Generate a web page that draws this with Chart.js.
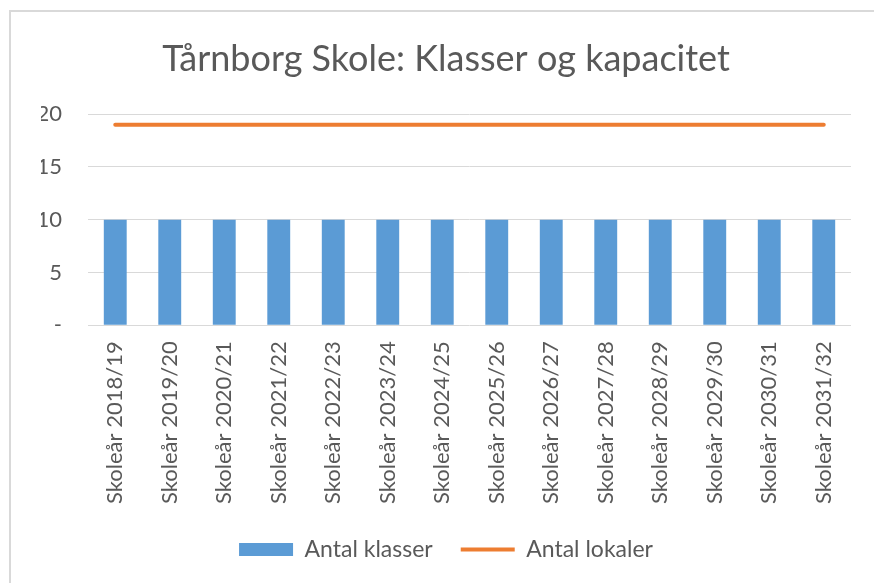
<!DOCTYPE html>
<html>
<head>
<meta charset="utf-8">
<script src="https://cdn.jsdelivr.net/npm/chart.js@4"></script>
<style>
  html, body { margin: 0; padding: 0; background: #fff; }
  #wrap { position: relative; width: 874px; height: 583px; }
  #frame { position: absolute; left: 9px; top: 10px; right: 0; bottom: 0; border-top: 2px solid #d9d9d9; border-left: 2px solid #d9d9d9; }
  canvas { position: absolute; left: 0; top: 0; }
</style>
</head>
<body>
<div id="wrap">
  <div id="frame"></div>
  <canvas id="c" width="874" height="583"></canvas>
</div>
<script>
const categories = ["Skoleår 2018/19","Skoleår 2019/20","Skoleår 2020/21","Skoleår 2021/22","Skoleår 2022/23","Skoleår 2023/24","Skoleår 2024/25","Skoleår 2025/26","Skoleår 2026/27","Skoleår 2027/28","Skoleår 2028/29","Skoleår 2029/30","Skoleår 2030/31","Skoleår 2031/32"];
const antalKlasser = [10,10,10,10,10,10,10,10,10,10,10,10,10,10];
const antalLokaler = [19,19,19,19,19,19,19,19,19,19,19,19,19,19];
const yTicks = [0,5,10,15,20];
const titleText = "Tårnborg Skole: Klasser og kapacitet";

const FONT = "Lato, 'Open Sans', sans-serif";
const TXT = "#595959";

// nudge the legend a little upwards after layout
const legendShift = {
  id: "legendShift",
  afterLayout(chart) {
    const lg = chart.legend;
    if (lg) { lg.top -= 10; lg.bottom -= 10; }
  }
};

new Chart(document.getElementById("c"), {
  type: "bar",
  plugins: [legendShift],
  data: {
    labels: categories,
    datasets: [
      {
        type: "line",
        label: "Antal lokaler",
        data: antalLokaler,
        borderColor: "#ED7D31",
        backgroundColor: "#ED7D31",
        borderWidth: 4,
        borderCapStyle: "round",
        pointRadius: 0,
        pointHoverRadius: 0,
        pointStyle: "line",
        order: 0
      },
      {
        type: "bar",
        label: "Antal klasser",
        data: antalKlasser,
        backgroundColor: "#5B9BD5",
        borderWidth: 0,
        barPercentage: 0.42,
        categoryPercentage: 1.0,
        pointStyle: "rect",
        order: 1
      }
    ]
  },
  options: {
    responsive: false,
    animation: false,
    devicePixelRatio: 1,
    layout: { padding: { left: 41, right: 23, top: 0, bottom: 2 } },
    plugins: {
      title: {
        display: true,
        text: titleText,
        color: TXT,
        font: { family: FONT, size: 36, weight: "normal" },
        padding: { top: 38, bottom: 33 }
      },
      legend: {
        position: "bottom",
        reverse: true,
        labels: {
          color: TXT,
          font: { family: FONT, size: 23 },
          usePointStyle: true,
          pointStyleWidth: 54,
          boxHeight: 13,
          padding: 28
        }
      },
      tooltip: { enabled: false }
    },
    scales: {
      x: {
        grid: { display: false, drawTicks: false },
        border: { display: false },
        ticks: {
          color: TXT,
          font: { family: FONT, size: 22 },
          minRotation: 90,
          maxRotation: 90,
          padding: 16,
          autoSkip: false
        }
      },
      y: {
        min: 0,
        max: 20,
        afterFit: (s) => { s.width = 47; },
        afterBuildTicks: (s) => { s.ticks = yTicks.map(v => ({ value: v })); },
        grid: { color: "#d9d9d9", lineWidth: 1, drawTicks: false },
        border: { display: false },
        ticks: {
          color: TXT,
          font: { family: FONT, size: 22 },
          padding: 26,
          callback: (v) => v === 0 ? "-" : String(v)
        }
      }
    }
  }
});
</script>
</body>
</html>
